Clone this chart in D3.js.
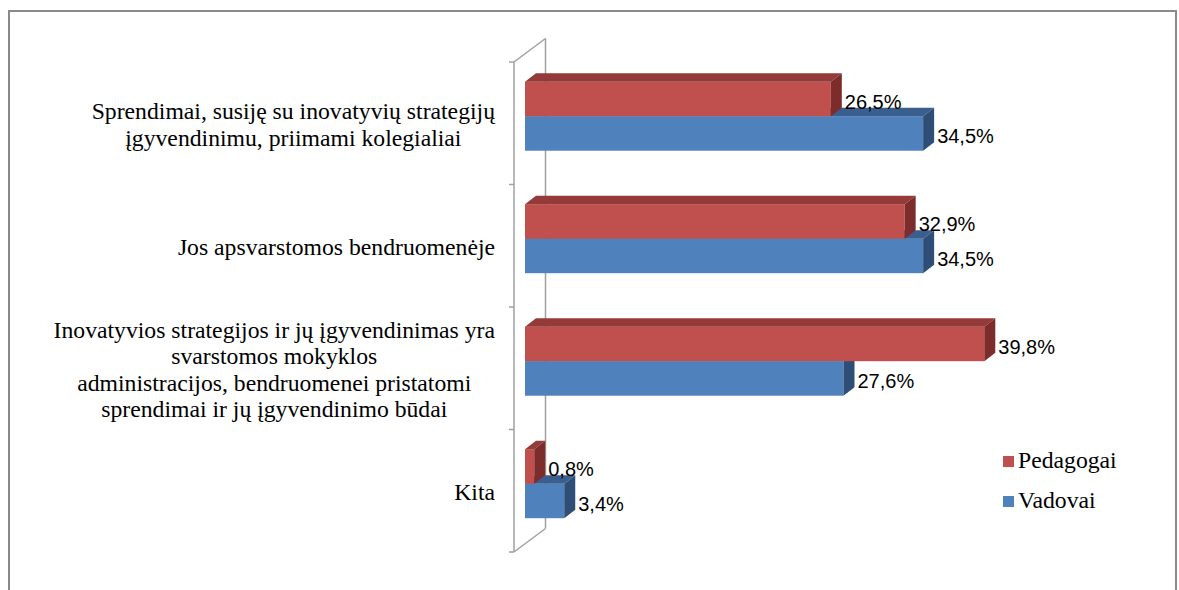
<!DOCTYPE html>
<html lang="lt">
<head>
  <meta charset="utf-8">
  <title>Inovatyvių strategijų sprendimai</title>
  <script src="https://d3js.org/d3.v7.min.js"></script>
  <style>
    body { margin: 0; background: #fff; }
    .cat-label { font-family: "Liberation Serif", "Times New Roman", serif; font-size: 23.7px; fill: #000; }
    .val-label { font-family: "Liberation Sans", Arial, sans-serif; font-size: 20px; fill: #000; }
    .legend-label { font-family: "Liberation Serif", "Times New Roman", serif; font-size: 23.7px; fill: #000; }
  </style>
</head>
<body>
<div id="chart"></div>
<script>
// data
var categories = [
  "Sprendimai, susiję su inovatyvių strategijų\nįgyvendinimu, priimami kolegialiai",
  "Jos apsvarstomos bendruomenėje",
  "Inovatyvios strategijos ir jų įgyvendinimas yra\nsvarstomos mokyklos\nadministracijos, bendruomenei pristatomi\nsprendimai ir jų įgyvendinimo būdai",
  "Kita"
];
var seriesNames = ["Pedagogai", "Vadovai"];
var pedagogai = [26.5, 32.9, 39.8, 0.8];
var vadovai = [34.5, 34.5, 27.6, 3.4];

var seriesValues = [pedagogai, vadovai];
var frontColors = ["#c0504d", "#4f81bd"];
var topColors = ["#943a38", "#3a5f8f"];
var sideColors = ["#7c2d2b", "#2f4e77"];

var width = 1179, height = 590;
// 3d depth of bars and walls
var dx = 11, dy = 8.5;
var wallDx = 31.5, wallDy = 23.5;

var svg = d3.select("#chart").append("svg")
  .attr("width", width)
  .attr("height", height);

// outer frame
svg.append("rect")
  .attr("x", 9)
  .attr("y", 11)
  .attr("width", 1167)
  .attr("height", 620)
  .attr("fill", "none")
  .attr("stroke", "#8a8a8a")
  .attr("stroke-width", 2);

// scales
var x = d3.scaleLinear()
  .domain([0, 40])
  .range([525, 986.6]);

var y = d3.scaleBand()
  .domain(categories)
  .range([62, 552]);

var barsTop = 19.7, barsHeight = 69;
var ySub = d3.scaleBand()
  .domain(seriesNames)
  .range([0, barsHeight]);

// category axis with 3d wall
var axisColor = "#a0a0a0";
var axisX = 514;
var y0 = y.range()[0], y1 = y.range()[1];
var wall = svg.append("g").attr("fill", "none").attr("stroke", axisColor).attr("stroke-width", 1.5);
wall.append("line").attr("x1", axisX).attr("x2", axisX).attr("y1", y0).attr("y2", y1);
wall.append("line").attr("x1", axisX + wallDx).attr("x2", axisX + wallDx).attr("y1", y0 - wallDy).attr("y2", y1 - wallDy);
wall.append("line").attr("x1", axisX).attr("x2", axisX + wallDx).attr("y1", y0).attr("y2", y0 - wallDy);
wall.append("line").attr("x1", axisX).attr("x2", axisX + wallDx).attr("y1", y1).attr("y2", y1 - wallDy);

var tickPos = categories.map(function(c) { return y(c); }).concat([y1]);
wall.selectAll(".tick")
  .data(tickPos)
  .enter()
  .append("line")
  .attr("x1", axisX - 5)
  .attr("x2", axisX)
  .attr("y1", function(d) { return d; })
  .attr("y2", function(d) { return d; });

// bars: blue first so the red bar covers its top face
var bars = [];
categories.forEach(function(c, i) {
  seriesNames.forEach(function(s, j) {
    bars.push({cat: c, series: s, j: j, value: seriesValues[j][i]});
  });
});
bars.sort(function(a, b) { return b.j - a.j; });

var barG = svg.append("g");
bars.forEach(function(d) {
  var bx0 = x(0), bx1 = x(d.value);
  var by = y(d.cat) + barsTop + ySub(d.series);
  var bh = ySub.bandwidth();
  var g = barG.append("g");
  g.append("rect")
    .attr("x", bx0)
    .attr("y", by)
    .attr("width", bx1 - bx0)
    .attr("height", bh)
    .attr("fill", frontColors[d.j]);
  g.append("polygon")
    .attr("points", [[bx0, by], [bx0 + dx, by - dy], [bx1 + dx, by - dy], [bx1, by]].join(" "))
    .attr("fill", topColors[d.j]);
  g.append("polygon")
    .attr("points", [[bx1, by], [bx1 + dx, by - dy], [bx1 + dx, by + bh - dy], [bx1, by + bh]].join(" "))
    .attr("fill", sideColors[d.j]);
  // value label
  g.append("text")
    .attr("class", "val-label")
    .attr("x", bx1 + dx + 3)
    .attr("y", by + bh / 2 + 10)
    .text(String(d.value.toFixed(1)).replace(".", ",") + "%");
});

// category labels: block right aligned, lines centred in the block
var labelRight = 495, lineHeight = 26.5;
categories.forEach(function(c) {
  var lines = c.split("\n");
  var center = y(c) + y.bandwidth() / 2;
  var t = svg.append("text")
    .attr("class", "cat-label")
    .attr("text-anchor", "middle");
  var spans = lines.map(function(l, k) {
    return t.append("tspan")
      .attr("y", center - (lines.length - 1) / 2 * lineHeight + k * lineHeight + 9)
      .text(l);
  });
  var maxW = d3.max(spans, function(s) { return s.node().getComputedTextLength(); });
  spans.forEach(function(s) { s.attr("x", labelRight - maxW / 2); });
});

// legend
var legend = svg.append("g")
  .attr("transform", "translate(1003,456)");
seriesNames.forEach(function(s, j) {
  legend.append("rect")
    .attr("x", 0)
    .attr("y", j * 40)
    .attr("width", 11)
    .attr("height", 11)
    .attr("fill", frontColors[j]);
  legend.append("text")
    .attr("class", "legend-label")
    .attr("x", 15)
    .attr("y", j * 40 + 12)
    .text(s);
});
</script>
</body>
</html>
